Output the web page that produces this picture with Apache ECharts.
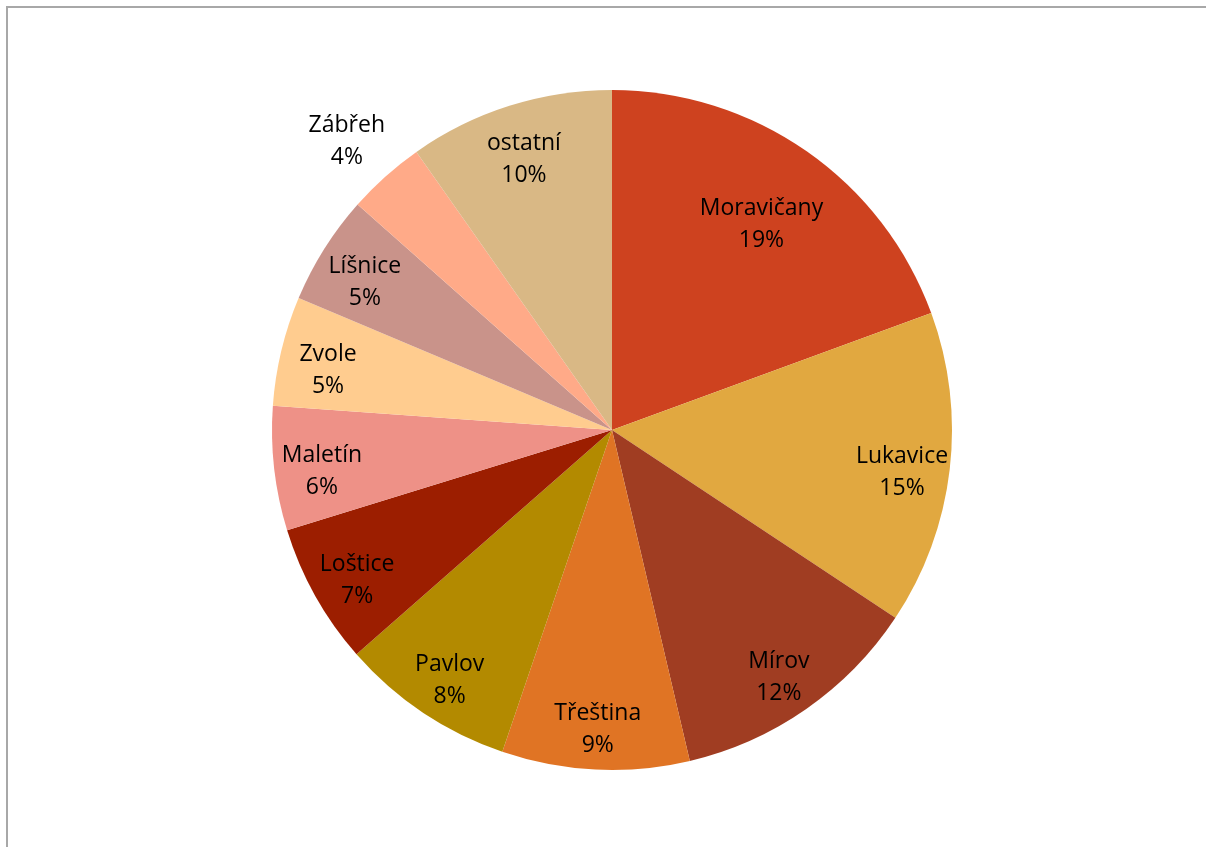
<!DOCTYPE html>
<html>
<head>
<meta charset="utf-8">
<script src="https://cdn.jsdelivr.net/npm/echarts@6/dist/echarts.min.js"></script>
<style>
  html, body { margin: 0; padding: 0; background: #fff; }
  #frame { position: absolute; left: 6px; top: 6px; width: 1200px; height: 841px;
           border-top: 2px solid #a8a8a8; border-left: 2px solid #a8a8a8; }
  #chart { position: absolute; left: 0; top: 0; width: 1206px; height: 847px; }
</style>
</head>
<body>
<div id="frame"></div>
<div id="chart"></div>
<script>
  // obce a jejich podíl (ve směru hodinových ručiček od 12 h)
  const names = ['Moravičany', 'Lukavice', 'Mírov', 'Třeština', 'Pavlov', 'Loštice',
                 'Maletín', 'Zvole', 'Líšnice', 'Zábřeh', 'ostatní']
  const values = [19.4, 14.9, 12.0, 8.9, 8.3, 6.7, 5.9, 5.2, 5.2, 3.7, 9.75]
  const colors = ['#ce421f', '#e1a840', '#a03d22', '#e07424', '#b38a00', '#9c1e00',
                  '#ee9187', '#ffcc8f', '#c9938a', '#ffaa88', '#d9b885']

  const center = [612, 430]
  const font = { fontFamily: 'Open Sans', fontSize: 23, lineHeight: 32, color: '#000',
                 rich: { gap: { lineHeight: 16 } } }
  // prázdný řádek nahoře posune popisek mírně dolů jako v Excelu
  const fmt = p => '{gap|}\n' + p.name + '\n' + Math.round(p.percent) + '%'

  // průhledný prstenec jen pro popisky vybraných obcí
  function labelRing(radius, shown) {
    return {
      type: 'pie',
      center: center,
      radius: radius,
      startAngle: 90,
      silent: true,
      itemStyle: { color: 'transparent' },
      labelLine: { show: false },
      label: Object.assign({ show: true, position: 'inside', formatter: fmt }, font),
      data: names.map((n, i) => ({
        name: n, value: values[i],
        label: { show: shown(n) }
      }))
    }
  }

  const myChart = echarts.init(document.getElementById('chart'))

  let option = {
    animation: false,
    color: colors,
    series: [
      {
        type: 'pie',
        center: center,
        radius: 340,
        startAngle: 90,
        silent: true,
        label: { show: false },
        labelLine: { show: false },
        data: names.map((n, i) => ({ name: n, value: values[i] }))
      },
      labelRing([238, 340], n => n !== 'Zábřeh' && n !== 'Moravičany'),
      labelRing([200, 316], n => n === 'Moravičany'),
      labelRing([370, 420], n => n === 'Zábřeh')
    ]
  }

  myChart.setOption(option)
</script>
</body>
</html>
